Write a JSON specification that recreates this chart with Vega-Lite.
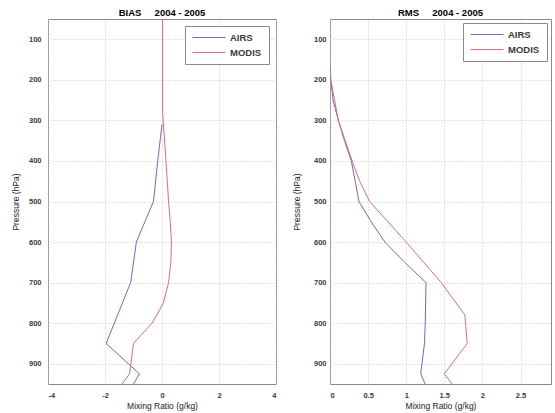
{
  "$schema": "https://vega.github.io/schema/vega-lite/v6.json",
  "padding": {"left": 10, "top": 7, "right": 0, "bottom": 0},
  "background": "white",
  "config": {
    "font": "Liberation Sans",
    "view": {"stroke": "#8a8a8a", "strokeWidth": 1},
    "axis": {
      "grid": true, "gridColor": "#c8c8c8", "gridDash": [1, 2], "gridWidth": 1,
      "domain": false, "ticks": false,
      "labelFont": "Liberation Sans", "labelFontSize": 7.5, "labelFontWeight": "bold", "labelColor": "#3a3a3a",
      "titleFont": "Liberation Sans", "titleFontSize": 8.5, "titleColor": "#222", "titleFontWeight": "normal"
    },
    "title": {"font": "Liberation Sans", "fontSize": 9.5, "fontWeight": "bold", "color": "#000", "offset": 2},
    "legend": {
      "symbolType": "stroke", "symbolSize": 1089, "symbolStrokeWidth": 1,
      "labelFont": "Liberation Sans", "labelFontSize": 9.5, "labelFontWeight": "bold", "labelColor": "#3a3a3a",
      "strokeColor": "#8a8a8a", "fillColor": "white", "padding": 7,
      "clipHeight": 9, "rowPadding": 5, "labelOffset": 4
    },
    "concat": {"spacing": 14}
  },
  "datasets": {
    "d": [
      {"panel": "BIAS", "src": "AIRS", "p": 310, "v": 0.0},
      {"panel": "BIAS", "src": "AIRS", "p": 400, "v": -0.15},
      {"panel": "BIAS", "src": "AIRS", "p": 500, "v": -0.3},
      {"panel": "BIAS", "src": "AIRS", "p": 600, "v": -0.9},
      {"panel": "BIAS", "src": "AIRS", "p": 700, "v": -1.1},
      {"panel": "BIAS", "src": "AIRS", "p": 850, "v": -1.96},
      {"panel": "BIAS", "src": "AIRS", "p": 925, "v": -0.79},
      {"panel": "BIAS", "src": "AIRS", "p": 950, "v": -1.0},
      {"panel": "BIAS", "src": "MODIS", "p": 50, "v": 0.02},
      {"panel": "BIAS", "src": "MODIS", "p": 280, "v": 0.02},
      {"panel": "BIAS", "src": "MODIS", "p": 400, "v": 0.14},
      {"panel": "BIAS", "src": "MODIS", "p": 500, "v": 0.23},
      {"panel": "BIAS", "src": "MODIS", "p": 550, "v": 0.29},
      {"panel": "BIAS", "src": "MODIS", "p": 600, "v": 0.33},
      {"panel": "BIAS", "src": "MODIS", "p": 650, "v": 0.31},
      {"panel": "BIAS", "src": "MODIS", "p": 700, "v": 0.23},
      {"panel": "BIAS", "src": "MODIS", "p": 750, "v": 0.05},
      {"panel": "BIAS", "src": "MODIS", "p": 780, "v": -0.18},
      {"panel": "BIAS", "src": "MODIS", "p": 800, "v": -0.35},
      {"panel": "BIAS", "src": "MODIS", "p": 850, "v": -1.0},
      {"panel": "BIAS", "src": "MODIS", "p": 925, "v": -1.14},
      {"panel": "BIAS", "src": "MODIS", "p": 950, "v": -1.4},
      {"panel": "RMS", "src": "AIRS", "p": 170, "v": 0.0},
      {"panel": "RMS", "src": "AIRS", "p": 200, "v": 0.01},
      {"panel": "RMS", "src": "AIRS", "p": 250, "v": 0.04},
      {"panel": "RMS", "src": "AIRS", "p": 300, "v": 0.11},
      {"panel": "RMS", "src": "AIRS", "p": 350, "v": 0.19},
      {"panel": "RMS", "src": "AIRS", "p": 400, "v": 0.28},
      {"panel": "RMS", "src": "AIRS", "p": 450, "v": 0.33},
      {"panel": "RMS", "src": "AIRS", "p": 500, "v": 0.38},
      {"panel": "RMS", "src": "AIRS", "p": 550, "v": 0.54},
      {"panel": "RMS", "src": "AIRS", "p": 600, "v": 0.72},
      {"panel": "RMS", "src": "AIRS", "p": 650, "v": 0.98},
      {"panel": "RMS", "src": "AIRS", "p": 700, "v": 1.26},
      {"panel": "RMS", "src": "AIRS", "p": 800, "v": 1.25},
      {"panel": "RMS", "src": "AIRS", "p": 850, "v": 1.24},
      {"panel": "RMS", "src": "AIRS", "p": 925, "v": 1.19},
      {"panel": "RMS", "src": "AIRS", "p": 950, "v": 1.25},
      {"panel": "RMS", "src": "MODIS", "p": 170, "v": 0.0},
      {"panel": "RMS", "src": "MODIS", "p": 200, "v": 0.01},
      {"panel": "RMS", "src": "MODIS", "p": 300, "v": 0.11},
      {"panel": "RMS", "src": "MODIS", "p": 400, "v": 0.29},
      {"panel": "RMS", "src": "MODIS", "p": 450, "v": 0.39},
      {"panel": "RMS", "src": "MODIS", "p": 500, "v": 0.52},
      {"panel": "RMS", "src": "MODIS", "p": 600, "v": 1.0},
      {"panel": "RMS", "src": "MODIS", "p": 700, "v": 1.46},
      {"panel": "RMS", "src": "MODIS", "p": 780, "v": 1.77},
      {"panel": "RMS", "src": "MODIS", "p": 850, "v": 1.8},
      {"panel": "RMS", "src": "MODIS", "p": 925, "v": 1.5},
      {"panel": "RMS", "src": "MODIS", "p": 950, "v": 1.6}
    ]
  },
  "hconcat": [
    {
      "width": 228, "height": 365,
      "title": "BIAS\u00a0\u00a0\u00a0\u00a0\u00a02004 - 2005",
      "data": {"name": "d"},
      "transform": [{"filter": "datum.panel === 'BIAS'"}],
      "mark": {"type": "line", "strokeWidth": 1, "clip": true},
      "encoding": {
        "x": {"field": "v", "type": "quantitative",
          "scale": {"domain": [-4, 4], "nice": false, "zero": false},
          "axis": {"values": [-4, -2, 0, 2, 4], "title": "Mixing Ratio (g/kg)", "labelExpr": "'' + datum.value", "labelPadding": 7, "titlePadding": 3}},
        "y": {"field": "p", "type": "quantitative",
          "scale": {"domain": [50, 950], "reverse": true, "nice": false, "zero": false},
          "axis": {"values": [100, 200, 300, 400, 500, 600, 700, 800, 900], "title": "Pressure (hPa)", "labelPadding": 7, "titlePadding": 8}},
        "color": {"field": "src", "type": "nominal",
          "scale": {"domain": ["AIRS", "MODIS"], "range": ["#6b6bc0", "#d4707a"]},
          "legend": {"title": null, "orient": "top-right", "offset": 7}},
        "order": {"field": "p", "type": "quantitative"}
      }
    },
    {
      "width": 221, "height": 365,
      "title": "RMS\u00a0\u00a0\u00a0\u00a0\u00a02004 - 2005",
      "data": {"name": "d"},
      "transform": [{"filter": "datum.panel === 'RMS'"}],
      "mark": {"type": "line", "strokeWidth": 1, "clip": true},
      "encoding": {
        "x": {"field": "v", "type": "quantitative",
          "scale": {"domain": [0, 2.9], "nice": false, "zero": false},
          "axis": {"values": [0, 0.5, 1, 1.5, 2, 2.5], "title": "Mixing Ratio (g/kg)", "labelExpr": "'' + datum.value", "labelPadding": 7, "titlePadding": 3}},
        "y": {"field": "p", "type": "quantitative",
          "scale": {"domain": [50, 950], "reverse": true, "nice": false, "zero": false},
          "axis": {"values": [100, 200, 300, 400, 500, 600, 700, 800, 900], "title": "Pressure (hPa)", "labelPadding": 4, "titlePadding": 12}},
        "color": {"field": "src", "type": "nominal",
          "scale": {"domain": ["AIRS", "MODIS"], "range": ["#6b6bc0", "#d4707a"]},
          "legend": {"title": null, "orient": "top-right", "offset": 4}},
        "order": {"field": "p", "type": "quantitative"}
      }
    }
  ],
  "resolve": {"scale": {"color": "independent"}, "legend": {"color": "independent"}}
}
